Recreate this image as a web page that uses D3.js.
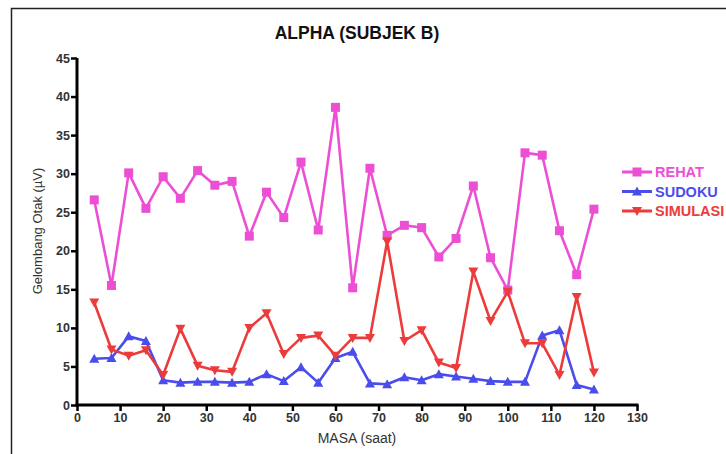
<!DOCTYPE html>
<html><head><meta charset="utf-8">
<script src="https://cdn.jsdelivr.net/npm/d3@7"></script>
<style>body{margin:0;background:#fff}svg{display:block}text{font-family:"Liberation Sans",Arial,sans-serif}</style>
</head><body><svg id="c" width="726" height="454"></svg>
<script>
const masa = [4,8,12,16,20,24,28,32,36,40,44,48,52,56,60,64,68,72,76,80,84,88,92,96,100,104,108,112,116,120];
const rehat = [26.6,15.5,30.1,25.5,29.6,26.8,30.4,28.5,29.0,21.9,27.6,24.3,31.5,22.7,38.6,15.2,30.7,22.0,23.3,23.0,19.2,21.6,28.4,19.1,14.9,32.7,32.4,22.6,16.9,25.4];
const sudoku = [6.0,6.1,8.9,8.3,3.2,2.9,3.0,3.0,2.9,3.0,4.0,3.1,4.9,2.9,6.1,6.9,2.8,2.7,3.6,3.2,4.0,3.7,3.4,3.1,3.0,3.0,9.0,9.7,2.6,2.0];
const simulasi = [13.3,7.2,6.4,7.1,3.9,9.9,5.1,4.5,4.3,10.0,11.9,6.6,8.7,9.0,6.4,8.7,8.7,21.2,8.3,9.7,5.5,4.8,17.3,10.9,14.7,8.0,8.0,3.9,14.0,4.2];
const xTicks = d3.range(0,131,10);
const yTicks = d3.range(0,46,5);
const seriesNames = ["REHAT","SUDOKU","SIMULASI"];
const colors = ["#ec4fd4","#4b4cec","#ec3b3b"];
const symbols = ["square","up","down"];

const svg = d3.select("#c");
svg.append("path").attr("d","M11.5,460 V8.5 H740").attr("fill","none").attr("stroke","#222").attr("stroke-width",1.5);

const x = d3.scaleLinear().domain([0,130]).range([77,637]);
const y = d3.scaleLinear().domain([0,45]).range([405,58]);

svg.append("text").attr("x",357).attr("y",39).attr("text-anchor","middle")
  .attr("font-size",17.5).attr("font-weight","bold").attr("fill","#111").text("ALPHA (SUBJEK B)");

const gx = svg.append("g").attr("transform","translate(0,405)").call(d3.axisBottom(x).tickValues(xTicks).tickSize(6).tickPadding(2).tickSizeOuter(0));
const gy = svg.append("g").attr("transform","translate(77,0)").call(d3.axisLeft(y).tickValues(yTicks).tickSize(6).tickPadding(1).tickSizeOuter(0));
[gx,gy].forEach(g=>{
  g.select(".domain").attr("stroke","#000").attr("stroke-width",3);
  g.selectAll(".tick line").attr("stroke","#000").attr("stroke-width",2.5);
  g.selectAll(".tick text").attr("font-size",12.5).attr("font-weight","bold").attr("fill","#333")
   .style("font-family","Liberation Sans, Arial, sans-serif");
});
gx.select(".domain").attr("d","M75.5,0H638.5");
gy.select(".domain").attr("d","M0,58V406.5");

svg.append("text").attr("x",357).attr("y",443).attr("text-anchor","middle")
  .attr("font-size",14).attr("fill","#333").text("MASA (saat)");
svg.append("text").attr("transform","translate(42,231) rotate(-90)").attr("text-anchor","middle")
  .attr("font-size",13).attr("fill","#333").text("Gelombang Otak (\u00b5V)");

function marker(g, kind, cx, cy, col){
  if(kind==="square"){
    g.append("rect").attr("x",cx-4.5).attr("y",cy-4.5).attr("width",9).attr("height",9).attr("fill",col);
  } else if(kind==="up"){
    g.append("path").attr("d",`M${cx},${cy-5}L${cx+5},${cy+4}L${cx-5},${cy+4}Z`).attr("fill",col);
  } else {
    g.append("path").attr("d",`M${cx},${cy+5}L${cx+5},${cy-4}L${cx-5},${cy-4}Z`).attr("fill",col);
  }
}

const allData = [rehat,sudoku,simulasi];
const line = d3.line().x(d=>x(d[0])).y(d=>y(d[1]));
allData.forEach((vals,i)=>{
  const pts = masa.map((m,j)=>[m,vals[j]]);
  const g = svg.append("g");
  g.append("path").attr("d",line(pts)).attr("fill","none").attr("stroke",colors[i]).attr("stroke-width",2.6).attr("stroke-linejoin","round");
  pts.forEach(p=>marker(g,symbols[i],x(p[0]),y(p[1]),colors[i]));
});

seriesNames.forEach((n,i)=>{
  const ly = 172 + i*19.5;
  const g = svg.append("g");
  g.append("line").attr("x1",622).attr("x2",652).attr("y1",ly).attr("y2",ly).attr("stroke",colors[i]).attr("stroke-width",3);
  marker(g,symbols[i],637,ly,colors[i]);
  g.append("text").attr("x",655).attr("y",ly+5).attr("font-size",14.5).attr("font-weight","bold").attr("fill",colors[i]).text(n);
});
</script></body></html>
